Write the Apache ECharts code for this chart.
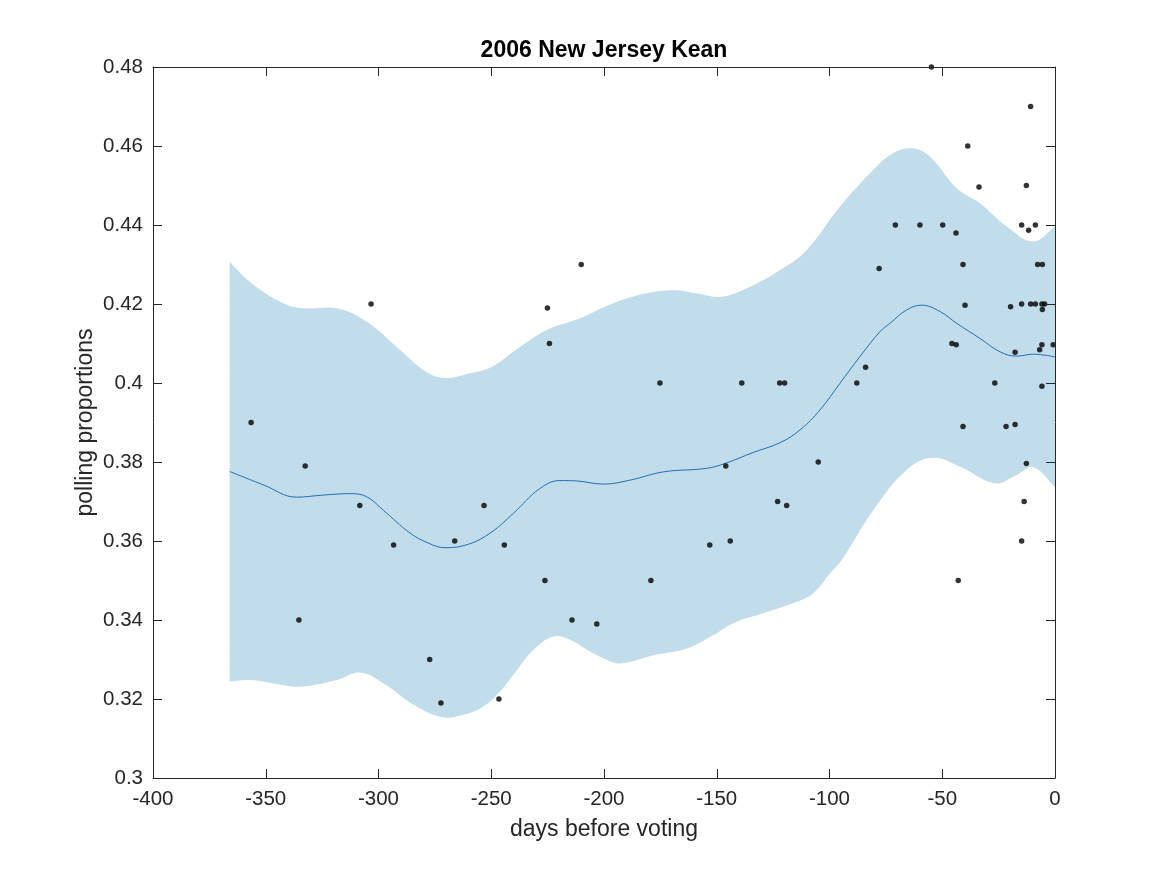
<!DOCTYPE html>
<html>
<head>
<meta charset="utf-8">
<title>2006 New Jersey Kean</title>
<script src="https://cdn.jsdelivr.net/npm/echarts@6/dist/echarts.min.js"></script>
<style>
    html, body { margin: 0; padding: 0; background: #fff; }
    #chart { width: 1167px; height: 875px; }
</style>
</head>
<body>
<div id="chart"></div>
<script>
// polls: days before voting / proportion
var pollDays = [-356.5, -335.3, -332.5, -308.3, -303.3, -293.3, -277.3, -272.3, -266.2, -253.2,
    -246.6, -244.2, -226.2, -225.1, -224.2, -214.2, -210.1, -203.2, -179.2, -175.2,
    -153.1, -146.0, -144.0, -138.9, -123.0, -122.1, -119.9, -119.0, -105.0, -87.9,
    -84.0, -78.0, -70.8, -59.9, -54.8, -49.8, -45.7, -43.9, -43.8, -42.9,
    -40.8, -40.8, -39.9, -38.7, -33.7, -26.7, -21.7, -19.7, -17.7, -17.7,
    -14.8, -14.8, -14.8, -13.7, -12.7, -12.7, -11.7, -10.8, -10.8, -8.7,
    -8.7, -7.7, -6.8, -5.8, -5.8, -5.8, -5.6, -5.6, -4.6, -0.8];
var pollValues = [0.390, 0.340, 0.379, 0.369, 0.420, 0.359, 0.330, 0.319, 0.360, 0.369,
    0.320, 0.359, 0.350, 0.419, 0.410, 0.340, 0.430, 0.339, 0.350, 0.400,
    0.359, 0.379, 0.360, 0.400, 0.370, 0.400, 0.400, 0.369, 0.380, 0.400,
    0.404, 0.429, 0.440, 0.440, 0.480, 0.440, 0.410, 0.438, 0.4097, 0.350,
    0.430, 0.389, 0.4197, 0.460, 0.4496, 0.400, 0.389, 0.4193, 0.4078, 0.3895,
    0.440, 0.420, 0.360, 0.370, 0.450, 0.3796, 0.4387, 0.470, 0.420, 0.440,
    0.420, 0.430, 0.4084, 0.420, 0.4097, 0.3992, 0.430, 0.4186, 0.420, 0.4097];

// smoothed mean
var meanDays = [-366, -351, -336.3, -325, -312.6, -305.2, -297.9, -286, -278, -270.5,
    -260, -250, -240.2, -228.4, -219.5, -212.1, -200.3, -188.5, -173.7, -154.5,
    -146, -133.9, -121.9, -113.1, -104.2, -95.4, -86.5, -77.6, -73.2, -65.8,
    -59.1, -51, -43.6, -33.3, -24.4, -17, -9.6, 0];
var meanValues = [0.3776, 0.3742, 0.3711, 0.3716, 0.3720, 0.3712, 0.3678, 0.3620, 0.3595, 0.3583,
    0.3592, 0.3622, 0.3670, 0.3733, 0.3753, 0.3752, 0.3744, 0.3754, 0.3775, 0.3784,
    0.3797, 0.3824, 0.3849, 0.3881, 0.3932, 0.3999, 0.4067, 0.4130, 0.4151, 0.4185,
    0.4197, 0.4181, 0.4151, 0.4113, 0.4079, 0.4068, 0.4073, 0.4066];

// band upper edge
var upperDays = [-366, -357, -342.2, -333.3, -318.5, -305.2, -290.5, -280.1, -271.3, -259.4,
    -250, -240.2, -225.4, -210.6, -195.9, -181.1, -169.3, -158.9, -148.6, -136.7,
    -121.9, -110.1, -95.4, -80.6, -71.7, -63.6, -55.4, -43.6, -33.3, -21.4,
    -9.6, 0];
var upperValues = [0.4307, 0.4256, 0.4202, 0.4189, 0.4189, 0.4155, 0.4084, 0.4033, 0.4013, 0.4025,
    0.4040, 0.4079, 0.4134, 0.4164, 0.4202, 0.4227, 0.4235, 0.4227, 0.4218, 0.4240,
    0.4286, 0.4337, 0.4446, 0.4539, 0.4582, 0.4594, 0.4573, 0.4493, 0.4455, 0.4396,
    0.4358, 0.4396];

// band lower edge
var lowerDays = [-366, -357, -345, -334.8, -318.5, -308.2, -297.9, -283.1, -271.3, -262.4,
    -253.5, -246.1, -238.7, -231.3, -222.5, -215.1, -206.2, -199, -192.9, -178.1,
    -163.3, -151.5, -142.7, -129.4, -114.5, -107.2, -99.8, -94.6, -80.6, -65.8,
    -54, -40.7, -26.6, -17, -9.6, 0];
var lowerValues = [0.3244, 0.3248, 0.3238, 0.3231, 0.3248, 0.3267, 0.3240, 0.3181, 0.3154, 0.3160,
    0.3181, 0.3219, 0.3273, 0.3324, 0.3358, 0.3350, 0.3320, 0.3300, 0.3290, 0.3311,
    0.3328, 0.3362, 0.3392, 0.3417, 0.3446, 0.3468, 0.3518, 0.3552, 0.3678, 0.3780,
    0.3811, 0.3784, 0.3746, 0.3767, 0.3787, 0.3737];

var axisColor = '#262626';
var fontName = 'Liberation Sans, Arial, Helvetica, sans-serif';

function zip(xs, ys) {
    return xs.map(function (x, i) { return [x, ys[i]]; });
}

var myChart = echarts.init(document.getElementById('chart'));

var boxAxis = function (pos, isX) {
    var ax = {
        type: 'value',
        position: pos,
        min: isX ? -400 : 0.3,
        max: isX ? 0 : 0.48,
        interval: isX ? 50 : 0.02,
        z: 10,
        axisLine: {show: true, onZero: false, lineStyle: {color: axisColor, width: 1}},
        axisTick: {show: true, inside: true, length: 9, lineStyle: {color: axisColor, width: 1}},
        axisLabel: {show: false},
        splitLine: {show: false}
    };
    return ax;
};

var xBottom = boxAxis('bottom', true);
xBottom.name = 'days before voting';
xBottom.nameLocation = 'middle';
xBottom.nameGap = 40;
xBottom.nameMoveOverlap = false;
xBottom.nameTextStyle = {fontFamily: fontName, fontSize: 23, color: axisColor};
xBottom.axisLabel = {show: true, margin: 11, fontFamily: fontName, fontSize: 20.5, color: axisColor};

var yLeft = boxAxis('left', false);
yLeft.name = 'polling proportions';
yLeft.nameLocation = 'middle';
yLeft.nameGap = 56;
yLeft.nameMoveOverlap = false;
yLeft.nameTextStyle = {fontFamily: fontName, fontSize: 23, color: axisColor};
yLeft.axisLabel = {
    show: true, margin: 10, fontFamily: fontName, fontSize: 20.5, color: axisColor,
    formatter: function (v) { return String(parseFloat(v.toFixed(2))); }
};

var option = {
    animation: false,
    backgroundColor: '#fff',
    title: {
        text: '2006 New Jersey Kean',
        left: 604,
        textAlign: 'center',
        top: 39,
        padding: 0,
        textStyle: {fontFamily: fontName, fontSize: 23, fontWeight: 'bold', color: '#000'}
    },
    grid: {left: 153, right: 112, top: 67, bottom: 97, containLabel: false},
    xAxis: [xBottom, boxAxis('top', true)],
    yAxis: [yLeft, boxAxis('right', false)],
    series: [
        {
            type: 'custom',
            name: 'band',
            z: 1,
            silent: true,
            data: zip(upperDays, upperValues),
            renderItem: function (params, api) {
                if (params.dataIndex !== 0) {
                    return null;
                }
                var pts = [];
                var up = zip(upperDays, upperValues);
                var lo = zip(lowerDays, lowerValues).reverse();
                up.forEach(function (p, i) {
                    var c = api.coord(p);
                    pts.push(c);
                    if (i === 0 || i === up.length - 1) pts.push(c.slice());
                });
                lo.forEach(function (p, i) {
                    var c = api.coord(p);
                    pts.push(c);
                    if (i === 0 || i === lo.length - 1) pts.push(c.slice());
                });
                return {
                    type: 'polygon',
                    shape: {points: pts, smooth: 0.4},
                    style: {fill: '#c1dcea', stroke: null}
                };
            }
        },
        {
            type: 'line',
            name: 'mean',
            z: 3,
            smooth: 0.4,
            showSymbol: false,
            symbol: 'none',
            data: zip(meanDays, meanValues),
            lineStyle: {color: '#2270b5', width: 1}
        },
        {
            type: 'scatter',
            name: 'polls',
            z: 4,
            symbol: 'circle',
            symbolSize: 5.5,
            data: zip(pollDays, pollValues),
            itemStyle: {color: '#000'}
        }
    ]
};

myChart.setOption(option);
</script>
</body>
</html>
